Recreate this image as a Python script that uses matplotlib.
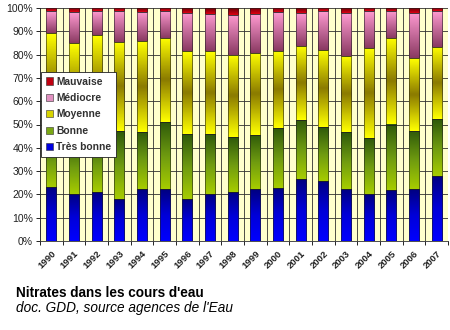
import numpy as np
import matplotlib
matplotlib.use('Agg')
import matplotlib.pyplot as plt
from matplotlib.colors import LinearSegmentedColormap
from matplotlib.patches import Patch

plt.rcParams['font.family'] = ['Liberation Sans', 'DejaVu Sans']

years = [str(y) for y in range(1990, 2008)]
categories = ['Très bonne', 'Bonne', 'Moyenne', 'Médiocre', 'Mauvaise']

# share of stations per class (%)
tres_bonne = [23.2, 20.3, 21.2, 17.9, 22.2, 22.2, 18.2, 20.3, 21.2, 22.2,
              22.9, 26.5, 25.8, 22.5, 20.1, 21.8, 22.2, 27.9]
bonne = [22.0, 23.0, 23.0, 29.1, 24.5, 28.7, 27.6, 25.5, 23.4, 23.2,
         25.4, 25.4, 23.1, 24.1, 23.9, 28.2, 24.9, 24.4]
moyenne = [44.0, 41.5, 44.2, 38.2, 39.0, 36.1, 35.6, 35.6, 35.2, 35.5,
           33.4, 31.9, 33.2, 32.9, 39.0, 37.0, 31.3, 31.1]
mediocre = [9.3, 13.3, 10.2, 13.4, 12.7, 11.6, 16.6, 16.2, 17.3, 16.5,
            16.4, 14.1, 16.5, 18.4, 15.6, 11.9, 19.5, 15.2]
mauvaise = [1.5, 1.9, 1.4, 1.4, 1.6, 1.4, 2.0, 2.4, 2.9, 2.6,
            1.9, 2.1, 1.4, 2.1, 1.4, 1.1, 2.1, 1.4]

series = [tres_bonne, bonne, moyenne, mediocre, mauvaise]

# vertical gradients (bottom -> top) for each class
gradients = [
    ['#0000ff', '#0000d8', '#000080'],
    ['#a6cc00', '#6e9a10', '#2f5a0a'],
    ['#ffff00', '#8a7a00', '#ffff00'],
    ['#8a3a62', '#c46a9a', '#ff9ad0'],
    ['#e00010', '#a00010', '#700000'],
]
legend_colors = ['#0000e0', '#7aa814', '#d8d400', '#e090c0', '#c00010']

fig = plt.figure(figsize=(4.5, 3.3), dpi=100)
ax = fig.add_axes([40 / 450, 1 - 241 / 330, 408 / 450, 233 / 330])
ax.set_facecolor('#ffffcc')

width = 0.45
grad = np.linspace(0, 1, 64).reshape(-1, 1)
x = np.arange(len(years))
bottom = np.zeros(len(years))
for vals, cols in zip(series, gradients):
    cmap = LinearSegmentedColormap.from_list('g', cols)
    vals = np.array(vals)
    for i in range(len(years)):
        ax.imshow(grad, extent=(x[i] - width / 2, x[i] + width / 2,
                                bottom[i], bottom[i] + vals[i]),
                  origin='lower', aspect='auto', cmap=cmap, zorder=3)
    ax.bar(x, vals, width, bottom=bottom, fill=False,
           edgecolor='#202020', linewidth=0.4, zorder=4)
    bottom += vals

ax.set_xlim(-0.5, len(years) - 0.5)
ax.set_ylim(0, 100)

ax.set_yticks(np.arange(0, 101, 10))
ax.set_yticklabels([f'{v}%' for v in range(0, 101, 10)], fontsize=7.5,
                   color='#202020')
ax.set_xticks(x)
ax.set_xticklabels(years, rotation=45, fontsize=6.8, fontweight='bold',
                   color='#202020', ha='right', rotation_mode='anchor')
ax.set_xticks(np.arange(-0.5, len(years)), minor=True)
ax.tick_params(axis='x', which='major', length=0, pad=6)
ax.tick_params(axis='x', which='minor', length=3, width=0.6)
ax.tick_params(axis='y', length=3, width=0.6, pad=2)

ax.grid(axis='y', which='major', color='#303030', linewidth=0.6, zorder=1)
ax.grid(axis='x', which='minor', color='#303030', linewidth=0.6, zorder=1)
ax.set_axisbelow(True)
for side in ['top', 'right']:
    ax.spines[side].set_visible(False)
for side in ['left', 'bottom']:
    ax.spines[side].set_linewidth(0.6)
    ax.spines[side].set_color('#303030')

handles = [Patch(facecolor=c, edgecolor='#303030', linewidth=0.4, label=l)
           for c, l in zip(legend_colors[::-1], categories[::-1])]
leg = fig.legend(handles=handles, loc='upper left',
                 bbox_to_anchor=(41 / 450, 1 - 72 / 330),
                 bbox_transform=fig.transFigure,
                 prop={'size': 7.4, 'weight': 'bold'}, frameon=True,
                 fancybox=False, handlelength=0.7, handleheight=0.7,
                 handletextpad=0.35, labelspacing=0.62, borderpad=0.45,
                 borderaxespad=0, framealpha=1)
leg.get_frame().set_edgecolor('#202020')
leg.get_frame().set_linewidth(0.6)
for t in leg.get_texts():
    t.set_color('#303030')
leg.set_zorder(10)

fig.text(16 / 450, 1 - 293 / 330, "Nitrates dans les cours d'eau",
         fontsize=9.8, fontweight='bold', va='center')
fig.text(16 / 450, 1 - 308 / 330, "doc. GDD, source agences de l'Eau",
         fontsize=9.8, style='italic', va='center')

fig.savefig('out.png', dpi=100)
